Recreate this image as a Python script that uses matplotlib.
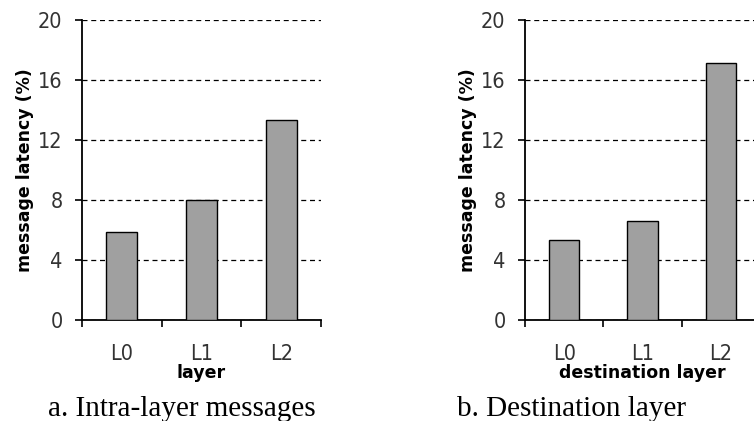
#!/usr/bin/env python3

import matplotlib
matplotlib.use("Agg")
import matplotlib.pyplot as plt
import numpy as np

layers = ["L0", "L1", "L2"]
intra_latency = [5.9, 8.0, 13.3]
dest_latency = [5.35, 6.6, 17.1]

y_ticks = [0, 4, 8, 12, 16, 20]

TICK_FONT = dict(family="DejaVu Sans", stretch="condensed", size=15.5,
                 weight="light")


def draw_panel(ax, values, xlabel):
    x = np.arange(len(layers))
    ax.bar(x, values, width=0.39, color="#a0a0a0", edgecolor="black",
           linewidth=1.0, zorder=3)
    ax.set_xlim(-0.5, len(layers) - 0.5)
    ax.set_ylim(0, 20)

    ax.set_yticks(y_ticks)
    ax.yaxis.grid(True, color="black", linestyle=(0, (4, 3)), linewidth=0.9)
    ax.set_axisbelow(True)

    # boundaries get tick marks, centres get the labels
    ax.set_xticks(np.arange(len(layers) + 1) - 0.5)
    ax.set_xticklabels([])
    ax.set_xticks(x, minor=True)
    ax.set_xticklabels(layers, minor=True, fontdict=TICK_FONT)
    ax.set_yticklabels([str(t) for t in y_ticks], fontdict=TICK_FONT)
    ax.tick_params(axis="x", which="major", direction="out", length=5,
                   width=1.2)
    ax.tick_params(axis="x", which="minor", length=0, pad=17,
                   labelcolor="#333333")
    ax.tick_params(axis="y", direction="out", length=5, width=1.2,
                   pad=9, labelcolor="#333333")

    for side in ["top", "right"]:
        ax.spines[side].set_visible(False)
    for side in ["left", "bottom"]:
        ax.spines[side].set_linewidth(1.3)

    ax.set_ylabel("message latency (%)", fontsize=12.5, fontweight="bold",
                  labelpad=3)
    ax.set_xlabel(xlabel, fontsize=12.5, fontweight="bold", labelpad=0)


def main():
    fig = plt.figure(figsize=(7.54, 4.21), dpi=100)
    fig.patch.set_facecolor("white")

    ax1 = fig.add_axes([0.1088, 0.2399, 0.317, 0.7126])
    ax2 = fig.add_axes([0.6963, 0.2399, 0.3117, 0.7126])

    draw_panel(ax1, intra_latency, "layer")
    draw_panel(ax2, dest_latency, "destination layer")

    fig.text(0.2407, 0.029, "a. Intra-layer messages", ha="center",
             va="center", fontsize=21, family="Liberation Serif")
    fig.text(0.7573, 0.029, "b. Destination layer", ha="center",
             va="center", fontsize=21, family="Liberation Serif")

    fig.savefig("out.png", dpi=100)


if __name__ == "__main__":
    main()
